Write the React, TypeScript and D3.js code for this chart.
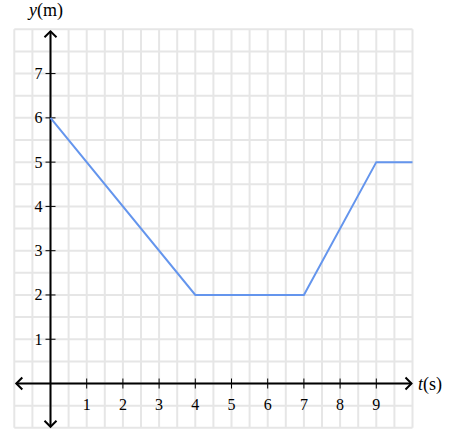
import React from "react";
import * as d3 from "d3";

const tData = [0, 4, 7, 9, 10];
const yData = [6, 2, 2, 5, 5];
const xTicks = [1, 2, 3, 4, 5, 6, 7, 8, 9];
const yTicks = [1, 2, 3, 4, 5, 6, 7];
const xDomain: [number, number] = [-1, 10];
const yDomain: [number, number] = [-1, 8];

export default function App() {
  const W = 465, H = 445;
  const x = d3.scaleLinear().domain(xDomain).range([14.3, 412.5]);
  const y = d3.scaleLinear().domain(yDomain).range([427.8, 29.3]);
  const gridX = d3.range(xDomain[0], xDomain[1] + 0.001, 0.5);
  const gridY = d3.range(yDomain[0], yDomain[1] + 0.001, 0.5);
  const line = d3.line<number>().x((_, i) => x(tData[i])).y((d) => y(d));
  const x0 = x(0), y0 = y(0);
  const font = "'Liberation Serif', 'DejaVu Serif', serif";
  const arrow = (px: number, py: number, dir: string) => {
    const s = 6;
    let d = "";
    if (dir === "up") d = `M${px - s},${py + s}L${px},${py}L${px + s},${py + s}`;
    if (dir === "down") d = `M${px - s},${py - s}L${px},${py}L${px + s},${py - s}`;
    if (dir === "left") d = `M${px + s},${py - s}L${px},${py}L${px + s},${py + s}`;
    if (dir === "right") d = `M${px - s},${py - s}L${px},${py}L${px - s},${py + s}`;
    return <path d={d} fill="none" stroke="#000" strokeWidth={2} strokeLinejoin="miter" />;
  };
  return (
    <div style={{ position: "absolute", left: 0, top: 0 }}>
      <svg width={W} height={H} style={{ display: "block" }}>
        <rect width={W} height={H} fill="#fff" />
        <g stroke="#e6e6e6" strokeWidth={2}>
          {gridX.map((v) => (
            <line key={"gx" + v} x1={x(v)} x2={x(v)} y1={y(yDomain[0])} y2={y(yDomain[1])} />
          ))}
          {gridY.map((v) => (
            <line key={"gy" + v} y1={y(v)} y2={y(v)} x1={x(xDomain[0])} x2={x(xDomain[1])} />
          ))}
        </g>
        <g stroke="#000" strokeWidth={2}>
          <line x1={x(xDomain[0]) + 2} x2={x(xDomain[1]) - 1} y1={y0} y2={y0} />
          <line x1={x0} x2={x0} y1={y(yDomain[1]) + 2} y2={y(yDomain[0]) - 1} />
        </g>
        {arrow(x0, y(yDomain[1]) + 2, "up")}
        {arrow(x0, y(yDomain[0]) - 1, "down")}
        {arrow(x(xDomain[0]) + 2, y0, "left")}
        {arrow(x(xDomain[1]) - 1, y0, "right")}
        <g stroke="#000" strokeWidth={1}>
          {xTicks.map((v) => (
            <line key={"xt" + v} x1={x(v)} x2={x(v)} y1={y0 - 5} y2={y0 + 5} />
          ))}
          {yTicks.map((v) => (
            <line key={"yt" + v} y1={y(v)} y2={y(v)} x1={x0 - 5} x2={x0 + 5} />
          ))}
        </g>
        <g fontFamily={font} fontSize={16} fill="#000">
          {xTicks.map((v) => (
            <text key={"xl" + v} x={x(v)} y={y0 + 26} textAnchor="middle">{v}</text>
          ))}
          {yTicks.map((v) => (
            <text key={"yl" + v} x={x0 - 8} y={y(v) + 5.5} textAnchor="end">{v}</text>
          ))}
          <text x={29} y={16} fontSize={18}>
            <tspan fontStyle="italic">y</tspan>(m)
          </text>
          <text x={418} y={y0 + 6} fontSize={18}>
            <tspan fontStyle="italic">t</tspan>(s)
          </text>
        </g>
        <path d={line(yData) || ""} fill="none" stroke="#6495ed" strokeWidth={2} />
      </svg>
    </div>
  );
}
